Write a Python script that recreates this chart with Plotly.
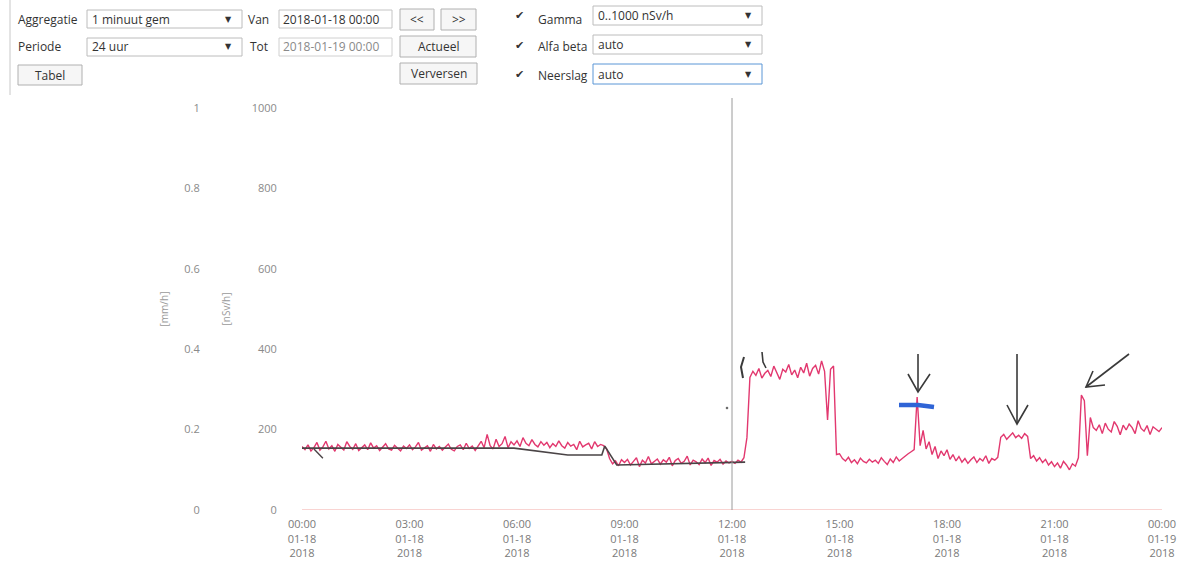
import plotly.graph_objects as go
import pandas as pd

# ---------------- data ----------------
# Gamma dose rate [nSv/h], 5-minute readings 2018-01-18 00:00 .. 2018-01-19 00:00
gamma_nsvh = [
    158, 150, 162, 147, 155, 168, 149, 157, 171, 152, 160, 146,   # 00h
    163, 155, 149, 170, 158, 151, 165, 148, 156, 162, 150, 167,   # 01h
    154, 160, 148, 158, 165, 152, 149, 161, 155, 147, 159, 153,   # 02h
    162, 150, 157, 168, 149, 155, 160, 146, 163, 152, 158, 149,   # 03h
    156, 164, 151, 147, 158, 162, 150, 166, 153, 159, 148, 161,   # 04h
    171, 155, 188, 160, 152, 176, 158, 165, 183, 155, 170, 162,   # 05h
    172, 158, 180, 166, 160, 175, 163, 157, 170, 161, 168, 155,   # 06h
    165, 158, 172, 160, 154, 168, 159, 163, 150, 171, 157, 162,   # 07h
    166, 152, 170, 158, 163, 160, 152, 128, 115, 122, 110, 125,   # 08h
    118, 126, 112, 121, 130, 108, 124, 117, 133, 115, 120, 127,   # 09h
    114, 125, 119, 131, 110, 123, 128, 116, 121, 134, 112, 124,   # 10h
    120, 113, 127, 118, 129, 111, 123, 119, 126, 114, 122, 117,   # 11h
    121, 116, 124, 119, 130, 180, 330, 345, 335, 352, 328, 340,   # 12h
    347, 332, 358, 339, 325, 350, 343, 362, 336, 348, 329, 355,   # 13h
    341, 365, 333, 352, 360, 338, 371, 345, 224, 350, 358, 138,   # 14h
    140, 128, 122, 131, 118, 125, 115, 129, 121, 117, 126, 119,   # 15h
    124, 116, 130, 121, 113, 127, 118, 132, 122, 128, 135, 140,   # 16h
    145, 150, 281, 160, 198, 152, 170, 138, 158, 128, 147, 135,   # 17h
    150, 126, 138, 122, 133, 119, 128, 116, 125, 132, 118, 128,   # 18h
    122, 135, 116, 128, 124, 131, 181, 188, 176, 185, 192, 180,   # 19h
    186, 178, 190, 183, 128, 135, 122, 130, 118, 126, 112, 120,   # 20h
    108, 117, 104, 121, 112, 100, 115, 109, 130, 286, 272, 135,   # 21h
    230, 205, 198, 212, 190, 216, 201, 194, 220, 208, 187, 211,   # 22h
    199, 214, 205, 190, 222, 203, 196, 210, 188, 207, 201, 195,   # 23h
    205,
]

# Hand-drawn trend line on the print-out (nSv/h)
pen_times = ["2018-01-18 00:00", "2018-01-18 05:55", "2018-01-18 07:25",
             "2018-01-18 08:22", "2018-01-18 08:27", "2018-01-18 08:47",
             "2018-01-18 12:22"]
pen_values = [154, 154, 137, 137, 159, 112, 119]
pen_tail_times = ["2018-01-18 00:20", "2018-01-18 00:35"]
pen_tail_values = [152, 129]

# Precipitation [mm/h], hourly (all zero)
rain_times = pd.date_range("2018-01-18 00:00", "2018-01-19 00:00", freq="1h")
rain_mmh = [0.0] * 25

tick_times = pd.date_range("2018-01-18 00:00", "2018-01-19 00:00", freq="3h")
tick_text = ["00:00<br>01-18<br>2018", "03:00<br>01-18<br>2018", "06:00<br>01-18<br>2018",
             "09:00<br>01-18<br>2018", "12:00<br>01-18<br>2018", "15:00<br>01-18<br>2018",
             "18:00<br>01-18<br>2018", "21:00<br>01-18<br>2018", "00:00<br>01-19<br>2018"]

gamma_times = pd.date_range("2018-01-18 00:00", periods=len(gamma_nsvh), freq="5min")

# ---------------- layout geometry ----------------
W, H = 1199, 576
ML, MR, MT, MB = 0, 37, 108, 66
PW, PH = W - ML - MR, H - MT - MB


def px(X):
    return (X - ML) / PW


def py(Y):
    return (H - MB - Y) / PH


FONT = "Open Sans"
fig = go.Figure()

fig.add_trace(go.Scatter(x=rain_times, y=rain_mmh, yaxis="y2", mode="lines",
                         line=dict(color="#f4a9a6", width=1.2), showlegend=False))
fig.add_trace(go.Scatter(x=gamma_times, y=gamma_nsvh, mode="lines",
                         line=dict(color="#e2386f", width=1.4), showlegend=False))
fig.add_trace(go.Scatter(x=pen_times, y=pen_values, mode="lines",
                         line=dict(color="#4a4446", width=1.6), showlegend=False))
fig.add_trace(go.Scatter(x=pen_tail_times, y=pen_tail_values, mode="lines",
                         line=dict(color="#4a4446", width=1.4), showlegend=False))

shapes = []
annots = []

# 12:00 cursor line
shapes.append(dict(type="line", xref="x", yref="paper", x0="2018-01-18 12:00", x1="2018-01-18 12:00",
                   y0=0, y1=py(98), line=dict(color="#9a9a9a", width=1)))


def pline(pts, color="#3a3a3a", width=1.6):
    d = "M " + " L ".join(f"{px(a):.5f},{py(b):.5f}" for a, b in pts)
    shapes.append(dict(type="path", xref="paper", yref="paper", path=d,
                       line=dict(color=color, width=width)))


# hand-drawn arrows
pline([(918, 354), (918, 392)])
pline([(908, 374), (918, 392), (930, 374)])
pline([(1017, 354), (1017, 424)])
pline([(1007, 405), (1017, 424), (1028, 405)])
pline([(1129, 354), (1086, 387)])
pline([(1093, 371), (1086, 387), (1105, 385)])
# small pen marks near 12:15
pline([(744, 357), (741, 367), (743, 378)], width=2)
pline([(762, 352), (763, 362), (766, 368)], width=1.6)
# blue highlighter stroke
pline([(899, 405), (918, 405), (934, 407)], color="#2f64d6", width=4.5)
# stray pen dot
shapes.append(dict(type="circle", xref="paper", yref="paper", x0=px(726), x1=px(728),
                   y0=py(409), y1=py(407), line=dict(color="#555", width=0.5), fillcolor="#555"))


def rect(x0, y0, x1, y1, border="#b5b5b5", fill="#ffffff", w=1):
    shapes.append(dict(type="rect", xref="paper", yref="paper", x0=px(x0), x1=px(x1),
                       y0=py(y1), y1=py(y0), line=dict(color=border, width=w), fillcolor=fill))


def text(x, y, s, anchor="left", size=12, color="#333333", family=FONT):
    annots.append(dict(xref="paper", yref="paper", x=px(x), y=py(y), text=s, showarrow=False,
                       xanchor=anchor, yanchor="middle", borderpad=0,
                       font=dict(family=family, size=size, color=color)))


def dropdown(x0, y0, x1, y1, label, border="#bcbcbc"):
    rect(x0, y0, x1, y1, border=border)
    text(x0 + 4, (y0 + y1) / 2, label)
    text(x1 - 14, (y0 + y1) / 2, "▼", anchor="center", size=8, color="#333", family="DejaVu Sans")


def button(x0, y0, x1, y1, label):
    rect(x0, y0, x1, y1, border="#b0b0b0", fill="#f6f6f6")
    text((x0 + x1) / 2, (y0 + y1) / 2, label, anchor="center")


# left border of the form
shapes.append(dict(type="line", xref="paper", yref="paper", x0=px(10), x1=px(10), y0=py(0), y1=py(95),
                   line=dict(color="#c8c8c8", width=1)))

# row 1
text(17, 19, "Aggregatie")
dropdown(87, 10, 242, 28, "1 minuut gem")
text(247, 19, "Van")
rect(279, 10, 392, 28, border="#c4c4c4")
text(282, 19, "2018-01-18 00:00")
button(400, 9, 434, 30, "&lt;&lt;")
button(441, 9, 476, 30, "&gt;&gt;")
text(519, 16, "✔", anchor="center", size=11, family="DejaVu Sans")
text(537, 19, "Gamma")
dropdown(593, 6, 762, 25, "0..1000 nSv/h")
# row 2
text(17, 47, "Periode")
dropdown(87, 38, 242, 56, "24 uur")
text(249, 47, "Tot")
rect(279, 38, 392, 56, border="#d0d0d0")
text(282, 47, "2018-01-19 00:00", color="#8a8a8a")
button(400, 36, 476, 57, "Actueel")
text(519, 45, "✔", anchor="center", size=11, family="DejaVu Sans")
text(537, 47, "Alfa beta")
dropdown(593, 35, 762, 54, "auto")
# row 3
button(18, 65, 82, 85, "Tabel")
button(400, 63, 477, 84, "Verversen")
text(519, 74, "✔", anchor="center", size=11, family="DejaVu Sans")
text(537, 76, "Neerslag")
dropdown(593, 64, 762, 84, "auto", border="#5a96d6")

fig.update_layout(
    width=W, height=H,
    margin=dict(l=ML, r=MR, t=MT, b=MB, autoexpand=False),
    paper_bgcolor="white", plot_bgcolor="white",
    font=dict(family=FONT, size=11, color="#808080"),
    showlegend=False,
    shapes=shapes,
    annotations=annots,
    xaxis=dict(domain=[px(302), 1], type="date",
               range=["2018-01-18 00:00", "2018-01-19 00:00"],
               tickvals=list(tick_times), ticktext=tick_text,
               showgrid=False, zeroline=False, showline=False,
               ticks="outside", ticklen=4, tickcolor="rgba(0,0,0,0)",
               tickfont=dict(size=11, color="#7a7a7a"), automargin=False),
    yaxis=dict(range=[0, 1000], tickvals=[0, 200, 400, 600, 800, 1000],
               showgrid=False, zeroline=False, showline=False,
               ticks="outside", ticklen=22, tickcolor="rgba(0,0,0,0)",
               tickfont=dict(size=11, color="#8a8a8a"),
               title=dict(text="[nSv/h]", standoff=19, font=dict(size=10, color="#9a9a9a")),
               automargin=False),
    yaxis2=dict(range=[0, 1], tickvals=[0, 0.2, 0.4, 0.6, 0.8, 1],
                ticktext=["0", "0.2", "0.4", "0.6", "0.8", "1"],
                overlaying="y", anchor="free", position=px(222), side="left",
                showgrid=False, zeroline=False, showline=False,
                ticks="outside", ticklen=20, tickcolor="rgba(0,0,0,0)",
                tickfont=dict(size=11, color="#8a8a8a"),
                title=dict(text="[mm/h]", standoff=12, font=dict(size=10, color="#9a9a9a")),
                automargin=False),
)

fig.write_html(
    "out.html",
    config={"responsive": False, "displayModeBar": False},
    post_script="document.body.style.margin='0';document.body.style.overflow='hidden';",
)
